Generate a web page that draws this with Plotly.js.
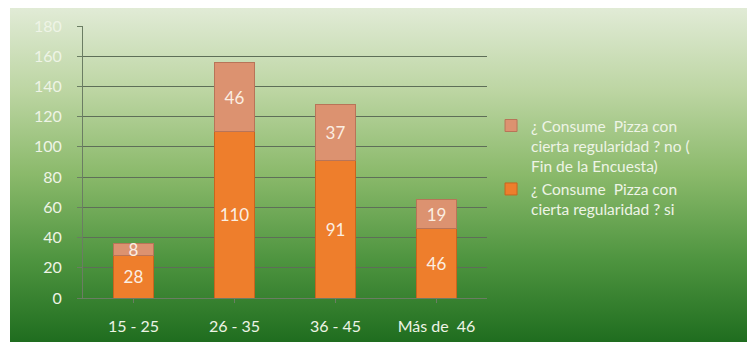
<!DOCTYPE html>
<html>
<head>
<meta charset="utf-8">
<script src="https://cdn.plot.ly/plotly-3.0.1.min.js"></script>
<style>
  html, body { margin:0; padding:0; background:#ffffff; }
  #wrap { position:relative; width:747px; height:350px; }
  #bg { position:absolute; left:10px; top:8px; width:737px; height:334px;
        background: linear-gradient(to bottom, #e1ebd6 0%, #bcd5a2 25%, #8ab96a 50%, #4f9540 75%, #1f6d1f 100%); }
  #chart { position:absolute; left:0; top:0; width:747px; height:350px; }
</style>
</head>
<body>
<div id="wrap"><div id="bg"></div><div id="chart"></div></div>
<script>
const categories = ["15 - 25", "26 - 35", "36 - 45", "Más de  46"];
const siValues = [28, 110, 91, 46];
const noValues = [8, 46, 37, 19];
const siName = "¿ Consume  Pizza con<br>cierta regularidad ? si";
const noName = "¿ Consume  Pizza con<br>cierta regularidad ? no (<br>Fin de la Encuesta)";
const yTicks = [0, 20, 40, 60, 80, 100, 120, 140, 160, 180];

const font = "Lato, 'Open Sans', sans-serif";
const traces = [
  {
    type: "bar", x: categories, y: siValues, name: siName,
    text: siValues.map(String), textposition: "inside", insidetextanchor: "middle",
    textangle: 0, constraintext: "none",
    textfont: {color: "#fbeee2", size: 17, family: font},
    marker: {color: "#ee7e2c", line: {color: "#c8651e", width: 1}},
    hoverinfo: "none"
  },
  {
    type: "bar", x: categories, y: noValues, name: noName,
    text: noValues.map(String), textposition: "inside", insidetextanchor: "middle",
    textangle: 0, constraintext: "none",
    textfont: {color: "#fbeee2", size: 17, family: font},
    marker: {color: "#dc9270", line: {color: "#b87458", width: 1}},
    hoverinfo: "none"
  }
];

const layout = {
  width: 747, height: 350,
  margin: {l: 83, r: 260, t: 26, b: 52},
  paper_bgcolor: "rgba(0,0,0,0)",
  plot_bgcolor: "rgba(0,0,0,0)",
  barmode: "stack",
  bargap: 0.61,
  font: {family: font, color: "#eef4e6", size: 16},
  showlegend: true,
  legend: {
    x: 1.01, xanchor: "left", y: 0.48, yanchor: "middle",
    traceorder: "reversed", valign: "top",
    font: {family: font, color: "#eef4e6", size: 15.5},
    itemwidth: 30, tracegroupgap: 14,
    bgcolor: "rgba(0,0,0,0)"
  },
  xaxis: {
    type: "category", categoryarray: categories,
    showline: true, linecolor: "#6b7d63", linewidth: 1,
    ticks: "outside", ticklen: 4, tickcolor: "#6b7d63",
    tickfont: {size: 16, color: "#eef4e6", family: font},
    ticklabelstandoff: 10,
    showgrid: false, zeroline: false
  },
  yaxis: {
    range: [0, 180], tickvals: yTicks, ticktext: yTicks.map(String),
    showline: true, linecolor: "#6b7d63", linewidth: 1,
    ticks: "outside", ticklen: 5, tickcolor: "#6b7d63",
    showgrid: true, gridcolor: "#5e6e58", gridwidth: 1,
    zeroline: false,
    tickfont: {size: 16, color: "#eef4e6", family: font},
    ticklabelstandoff: 12
  }
};

Plotly.newPlot("chart", traces, layout, {staticPlot: true, displayModeBar: false});
</script>
</body>
</html>
